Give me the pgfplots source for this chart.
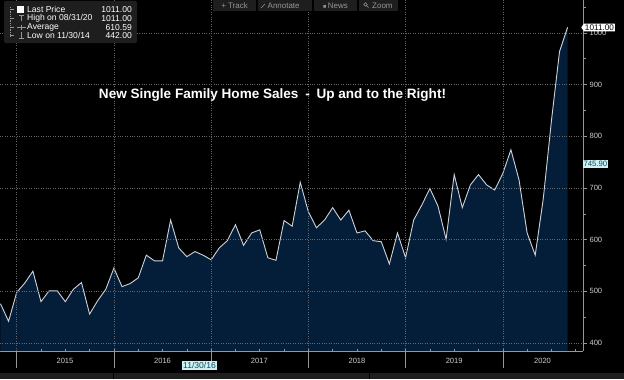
\documentclass[border=0pt]{standalone}
\usepackage{fontspec}
\setmainfont{Liberation Sans}
\usepackage{pgfplots}
\pgfplotsset{compat=1.18}
\usepackage{pgfplotstable}
\usetikzlibrary{shapes.symbols}
\definecolor{navy}{RGB}{4,30,58}
\definecolor{linec}{RGB}{205,210,218}
\definecolor{gridc}{RGB}{100,104,110}
\definecolor{axc}{RGB}{150,150,150}
\definecolor{txt}{RGB}{205,205,205}
\definecolor{boxc}{RGB}{30,30,30}
\definecolor{cyanbox}{RGB}{205,242,245}
\definecolor{cyantxt}{RGB}{20,70,90}

\pgfplotstableread{
i v
-2 476
-1 442
0 498
1 516
2 539
3 480
4 501
5 501
6 480
7 504
8 517
9 456
10 482
11 504
12 545
13 509
14 515
15 526
16 570
17 559
18 559
19 638
20 584
21 567
22 577
23 570
24 561
25 584
26 598
27 629
28 589
29 613
30 619
31 565
32 560
33 637
34 626
35 711
36 654
37 623
38 638
39 662
40 638
41 657
42 613
43 617
44 598
45 596
46 553
47 613
48 565
49 638
50 667
51 699
52 665
53 601
54 726
55 662
56 706
57 726
58 706
59 696
60 728
61 774
62 716
63 613
64 570
65 680
66 830
67 964
68 1011
}\sales

\begin{document}
\begin{tikzpicture}[x=1bp,y=1bp]
\useasboundingbox (0,0) rectangle (624,379);
\fill[black] (0,0) rectangle (624,379);
\begin{axis}[
  at={(0bp,28bp)}, anchor=south west,
  width=583bp, height=351bp, scale only axis,
  xmin=-2.06, xmax=69.9, ymin=384.5, ymax=1063.8,
  axis x line*=bottom, axis y line*=right,
  axis line style={draw=axc, line width=0.8bp},
  axis on top, clip=false,
  xtick={0,12,...,60}, xticklabels={},
  minor xtick={3,6,...,69},
  extra x ticks={5.96,18,29.95,42,54,64.9},
  extra x tick labels={2015,2016,2017,2018,2019,2020},
  extra x tick style={grid=none, major tick length=0pt, xticklabel style={yshift=-4bp}},
  ytick={400,500,...,1000},
  minor ytick={450,550,...,1050},
  tick align=outside,
  major tick length=4bp, minor tick length=2.5bp,
  tick style={draw=axc, line width=0.6bp},
  minor x tick style={yshift=2.5bp},
  grid=major,
  major grid style={draw=gridc, line width=0.6bp, dash pattern=on 0.8bp off 1.6bp},
  ticklabel style={font=\fontsize{7.6}{9}\selectfont, text=txt},
  /pgf/number format/assume math mode=true,
  /pgf/number format/1000 sep={},
  yticklabel style={xshift=-1bp},
]
\addplot[draw=none, fill=navy] table[x=i, y=v] {\sales} \closedcycle;
\addplot[draw=linec, line width=0.9bp] table[x=i, y=v] {\sales};
\pgfplotsinvokeforeach{0,12,24,36,48,60}{
  \draw[axc, line width=0.6bp] (axis cs:#1,384.5) -- ++(0bp,-17bp);
}
\end{axis}

% bottom strip
\fill[boxc] (0,0) rectangle (624,6);
\draw[black, line width=1bp] (113,0) -- (113,6);
\draw[black, line width=1bp] (369,0) -- (369,6);

% title
\node[text=white, font=\bfseries\fontsize{13.6}{16}\selectfont] at (272.5,284) {New Single Family Home Sales\enspace-\enspace Up and to the Right!};

% legend box
\fill[boxc, rounded corners=1.5bp] (4,336) rectangle (137,378);
\fill[white] (17,366) rectangle (24,373);
\draw[axc, line width=0.5bp, dash pattern=on 0.8bp off 1bp] (10,372) -- (10,342);
\foreach \yy in {369.5,360.7,351.7,343.3}{\draw[axc, line width=0.5bp] (10,\yy) -- (14,\yy);}
\draw[axc, line width=0.6bp] (19,364) -- (24,364) (21.5,364) -- (21.5,357.5);
\draw[axc, line width=0.6bp] (17,351.7) -- (26,351.7) (21.5,354) -- (21.5,349.5);
\draw[axc, line width=0.6bp] (21.5,347) -- (21.5,340.5) (19,340.5) -- (24,340.5);
\begin{scope}[every node/.style={text=white, font=\fontsize{8.6}{10}\selectfont, inner sep=0pt}]
\node[anchor=west] at (27,369.5) {Last Price};
\node[anchor=west] at (27,360.7) {High on 08/31/20};
\node[anchor=west] at (27,351.7) {Average};
\node[anchor=west] at (27,343.3) {Low on 11/30/14};
\node[anchor=east] at (132,369.5) {1011.00};
\node[anchor=east] at (132,360.7) {1011.00};
\node[anchor=east] at (132,351.7) {610.59};
\node[anchor=east] at (132,343.3) {442.00};
\end{scope}

% toolbar
\fill[boxc] (213,368) rectangle (256,379);
\fill[boxc] (258,368) rectangle (312,379);
\fill[boxc] (314,368) rectangle (357,379);
\fill[boxc] (359,368) rectangle (398,379);
\begin{scope}[every node/.style={text=axc, font=\fontsize{8}{9}\selectfont, inner sep=0pt}]
\node at (234.5,373.5) {+\;Track};
\draw[axc, line width=0.5bp] (261,371) -- (265,375);
\node[anchor=west] at (267.5,373.5) {Annotate};
\node at (335.5,373.5) {\fontsize{5.5}{6}\selectfont■\;\fontsize{8}{9}\selectfont News};
\draw[axc, line width=0.5bp] (365.5,374.5) circle (1.8bp) (366.8,373.2) -- (368.6,371.4);
\node[anchor=west] at (372,373.5) {Zoom};
\end{scope}

% value tags
\node[shape=signal, signal to=west, signal pointer angle=110, fill=white, text=black, font=\fontsize{8.2}{9}\selectfont, inner sep=1bp, anchor=west] at (581,351.5) {1011.00};
\node[fill=cyanbox, text=cyantxt, font=\fontsize{7.8}{8}\selectfont, inner sep=0.8bp, anchor=west] at (582.5,215) {745.90};
\node[fill=cyanbox, text=cyantxt, font=\fontsize{8.6}{9}\selectfont, inner sep=1.2bp] at (199.5,13.5) {11/30/16};
\end{tikzpicture}
\end{document}
